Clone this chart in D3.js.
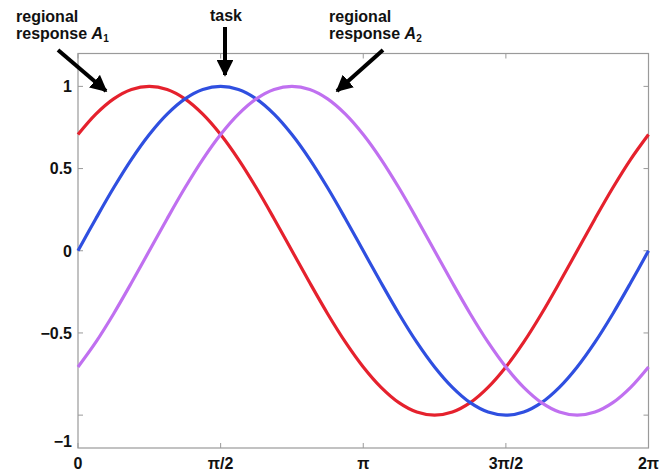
<!DOCTYPE html>
<html><head><meta charset="utf-8">
<script src="https://cdn.jsdelivr.net/npm/d3@7"></script>
<style>body{margin:0;background:#fff}svg{display:block}text{font-family:"Liberation Sans",Arial,sans-serif;font-weight:bold;fill:#111}</style>
</head><body><svg id="c" width="663" height="473"></svg>
<script>
// phase positions in units of pi
const phases = [0,0.0625,0.125,0.1875,0.25,0.3125,0.375,0.4375,0.5,0.5625,0.625,0.6875,0.75,0.8125,0.875,0.9375,1,1.0625,1.125,1.1875,1.25,1.3125,1.375,1.4375,1.5,1.5625,1.625,1.6875,1.75,1.8125,1.875,1.9375,2];
const regionalA1 = [.707,.831,.924,.981,1,.981,.924,.831,.707,.556,.383,.195,0,-.195,-.383,-.556,-.707,-.831,-.924,-.981,-1,-.981,-.924,-.831,-.707,-.556,-.383,-.195,0,.195,.383,.556,.707];
const task = [0,.195,.383,.556,.707,.831,.924,.981,1,.981,.924,.831,.707,.556,.383,.195,0,-.195,-.383,-.556,-.707,-.831,-.924,-.981,-1,-.981,-.924,-.831,-.707,-.556,-.383,-.195,0];
const regionalA2 = [-.707,-.556,-.383,-.195,0,.195,.383,.556,.707,.831,.924,.981,1,.981,.924,.831,.707,.556,.383,.195,0,-.195,-.383,-.556,-.707,-.831,-.924,-.981,-1,-.981,-.924,-.831,-.707];
const xTicks = [0,0.5,1,1.5,2];
const xTickLabels = ["0","π/2","π","3π/2","2π"];
const yTicks = [1,0.5,0,-0.5,-1];
const yTickLabels = ["1","0.5","0","\u22120.5",""];
const yBottomLabel = "\u22121";

const svg = d3.select("#c");
const L=78, R=648.5, T=53.5, B=448;
const x = d3.scaleLinear().domain([0,2]).range([L,R]);
const y = d3.scaleLinear().domain([-1.2,1.2]).range([B,T]);
const frame = "#9a9a9a";
const FS = 16;

// frame
svg.append("rect").attr("x",L).attr("y",T).attr("width",R-L).attr("height",B-T)
  .attr("fill","none").attr("stroke",frame).attr("stroke-width",1.2);

// ticks (inward)
const tk = 5;
xTicks.forEach(v=>{
  svg.append("line").attr("x1",x(v)).attr("x2",x(v)).attr("y1",B).attr("y2",B-tk).attr("stroke",frame);
  svg.append("line").attr("x1",x(v)).attr("x2",x(v)).attr("y1",T).attr("y2",T+tk).attr("stroke",frame);
});
yTicks.forEach(v=>{
  svg.append("line").attr("x1",L).attr("x2",L+tk).attr("y1",y(v)).attr("y2",y(v)).attr("stroke",frame);
  svg.append("line").attr("x1",R).attr("x2",R-tk).attr("y1",y(v)).attr("y2",y(v)).attr("stroke",frame);
});
// tick labels
xTicks.forEach((v,i)=>{
  svg.append("text").attr("x",x(v)).attr("y",469).attr("text-anchor","middle")
    .attr("font-size",FS).text(xTickLabels[i]);
});
yTicks.forEach((v,i)=>{
  svg.append("text").attr("x",72).attr("y",y(v)).attr("dy","0.36em").attr("text-anchor","end")
    .attr("font-size",FS).text(yTickLabels[i]);
});
svg.append("text").attr("x",72).attr("y",y(-1.2)-7).attr("dy","0.36em").attr("text-anchor","end")
  .attr("font-size",FS).text(yBottomLabel);

// curves
const series = [
  {vals: regionalA1, color:"#e5212d"},
  {vals: task, color:"#2f4fe0"},
  {vals: regionalA2, color:"#c070f0"}
];
const line = d3.line().x((d,i)=>x(phases[i])).y(d=>y(d)).curve(d3.curveCatmullRom);
series.forEach(s=>{
  svg.append("path").datum(s.vals).attr("d",line).attr("fill","none")
    .attr("stroke",s.color).attr("stroke-width",3.2).attr("stroke-linejoin","round");
});

// arrows
const defs = svg.append("defs");
defs.append("marker").attr("id","ah").attr("viewBox","0 0 10 10").attr("refX",9).attr("refY",5)
  .attr("markerWidth",4.2).attr("markerHeight",4.2).attr("markerUnits","strokeWidth").attr("orient","auto")
  .append("path").attr("d","M0,0 L10,5 L0,10 z").attr("fill","#000");
function arrow(x1,y1,x2,y2){
  svg.append("line").attr("x1",x1).attr("y1",y1).attr("x2",x2).attr("y2",y2)
    .attr("stroke","#000").attr("stroke-width",4).attr("marker-end","url(#ah)");
}
arrow(58,50,106,91);
arrow(225,27,225,75);
arrow(383,50,337,91);

// annotation texts
function label(xp, lines, sub){
  svg.append("text").attr("x",xp).attr("y",22).attr("font-size",FS).text(lines[0]);
  const t2 = svg.append("text").attr("x",xp).attr("y",39).attr("font-size",FS);
  t2.append("tspan").text(lines[1]+" ");
  t2.append("tspan").attr("font-style","italic").text("A");
  t2.append("tspan").attr("font-size",10).attr("dy",3).text(sub);
}
label(16,["regional","response"],"1");
svg.append("text").attr("x",226).attr("y",21).attr("text-anchor","middle").attr("font-size",FS).text("task");
label(329,["regional","response"],"2");
</script></body></html>
